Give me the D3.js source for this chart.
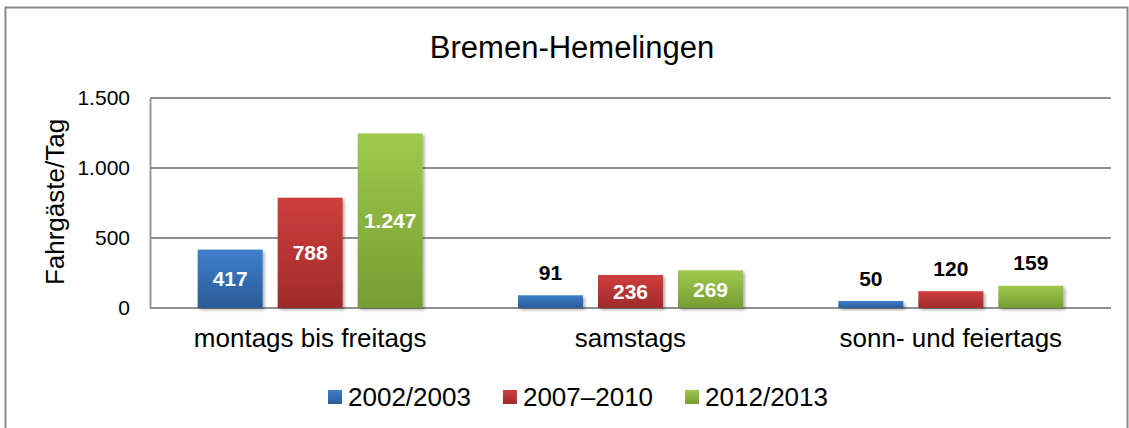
<!DOCTYPE html>
<html>
<head>
<meta charset="utf-8">
<script src="https://cdn.jsdelivr.net/npm/d3@7"></script>
<style>
  body { margin: 0; background: #fff; }
  text { font-family: Arial, 'Liberation Sans', sans-serif; }
</style>
</head>
<body>
<div id="chart"></div>
<script>
const categories = ['montags bis freitags', 'samstags', 'sonn- und feiertags'];
const seriesNames = ['2002/2003', '2007\u20132010', '2012/2013'];
const values2002 = [417, 91, 50];
const values2007 = [788, 236, 120];
const values2012 = [1247, 269, 159];
const yTicks = [0, 500, 1000, 1500];

const colors = [
    { id: 'gBlue', top: '#3e7fcd', bottom: '#2b5b98' },
    { id: 'gRed', top: '#cf3e3c', bottom: '#9f2b2a' },
    { id: 'gGreen', top: '#9fca4b', bottom: '#769c33' }
];

const series = [values2002, values2007, values2012];

const W = 1129, H = 428;
const plot = { left: 150, right: 1111, top: 98, bottom: 308 };

const fmt = d3.formatLocale({ decimal: ',', thousands: '.', grouping: [3], currency: ['', '€'] }).format(',d');

const svg = d3.select('#chart')
    .append('svg')
    .attr('width', W)
    .attr('height', H);

const defs = svg.append('defs');
colors.forEach(c => {
    const g = defs.append('linearGradient')
        .attr('id', c.id)
        .attr('x1', '0%').attr('y1', '0%')
        .attr('x2', '0%').attr('y2', '100%');
    g.append('stop').attr('offset', '0%').attr('stop-color', c.top);
    g.append('stop').attr('offset', '100%').attr('stop-color', c.bottom);
});

const shadow = defs.append('filter')
    .attr('id', 'shadow')
    .attr('x', '-20%').attr('y', '-20%')
    .attr('width', '150%').attr('height', '150%');
shadow.append('feDropShadow')
    .attr('dx', 2).attr('dy', 2)
    .attr('stdDeviation', 1.5)
    .attr('flood-color', '#000')
    .attr('flood-opacity', 0.3);

// outer frame
svg.append('rect')
    .attr('x', 5.5).attr('y', 7.5)
    .attr('width', W - 7).attr('height', H + 20)
    .attr('fill', 'none')
    .attr('stroke', '#8a8a8a')
    .attr('stroke-width', 2);

// title
svg.append('text')
    .attr('x', 572)
    .attr('y', 58)
    .attr('text-anchor', 'middle')
    .style('font-size', '31px')
    .attr('fill', '#000')
    .text('Bremen-Hemelingen');

const x0 = d3.scaleBand()
    .domain(categories)
    .range([plot.left, plot.right])
    .paddingInner(0)
    .paddingOuter(0);

const barW = 65, barStep = 80;

const y = d3.scaleLinear()
    .domain([0, 1500])
    .range([plot.bottom, plot.top]);

// grid
svg.append('g')
    .selectAll('line')
    .data(yTicks)
    .enter()
    .append('line')
    .attr('x1', plot.left)
    .attr('x2', plot.right)
    .attr('y1', d => y(d))
    .attr('y2', d => y(d))
    .attr('stroke', '#8f8f8f')
    .attr('stroke-width', 1.8);

// y axis
const yAxis = svg.append('g')
    .attr('transform', `translate(${plot.left},0)`)
    .call(d3.axisLeft(y).tickValues(yTicks).tickSize(0).tickPadding(20).tickFormat(fmt));
yAxis.select('.domain')
    .attr('stroke', '#8f8f8f')
    .attr('stroke-width', 1.8);
yAxis.selectAll('text')
    .style('font-size', '21px')
    .style('font-family', "Arial, 'Liberation Sans', sans-serif")
    .attr('fill', '#000');

svg.append('text')
    .attr('transform', 'translate(64,202) rotate(-90)')
    .attr('text-anchor', 'middle')
    .style('font-size', '26px')
    .attr('fill', '#000')
    .text('Fahrgäste/Tag');

// category labels
svg.append('g')
    .selectAll('text')
    .data(categories)
    .enter()
    .append('text')
    .attr('x', d => x0(d) + x0.bandwidth() / 2)
    .attr('y', 347)
    .attr('text-anchor', 'middle')
    .style('font-size', '26px')
    .attr('fill', '#000')
    .text(d => d);

// bars
const barData = [];
series.forEach((vals, si) => {
    vals.forEach((v, ci) => {
        barData.push({ si, ci, v });
    });
});

const barX = d => x0(categories[d.ci]) + x0.bandwidth() / 2 - (barStep * 2 + barW) / 2 + d.si * barStep;

svg.append('g')
    .selectAll('rect')
    .data(barData)
    .enter()
    .append('rect')
    .attr('x', barX)
    .attr('y', d => y(d.v))
    .attr('width', barW)
    .attr('height', d => y(0) - y(d.v))
    .attr('fill', d => `url(#${colors[d.si].id})`)
    .style('filter', 'url(#shadow)');

svg.append('g')
    .selectAll('text')
    .data(barData)
    .enter()
    .append('text')
    .attr('x', d => barX(d) + barW / 2)
    .attr('y', d => {
        const h = y(0) - y(d.v);
        return h >= 30 ? y(d.v) + h / 2 + 7.5 : y(d.v) - 15.5;
    })
    .attr('text-anchor', 'middle')
    .style('font-size', '21px')
    .style('font-weight', 'bold')
    .attr('fill', d => (y(0) - y(d.v) >= 30 ? '#fff' : '#000'))
    .text(d => fmt(d.v));

// legend
const legend = svg.append('g');
const items = legend.selectAll('g')
    .data(seriesNames)
    .enter()
    .append('g');
items.append('rect')
    .attr('width', 14)
    .attr('height', 14)
    .attr('y', 390)
    .attr('fill', (d, i) => `url(#${colors[i].id})`);
items.append('text')
    .attr('x', 20)
    .attr('y', 406)
    .style('font-size', '26px')
    .attr('fill', '#000')
    .text(d => d);

let cursor = 0;
const offsets = [];
items.each(function() {
    offsets.push(cursor);
    const tw = d3.select(this).select('text').node().getComputedTextLength();
    cursor += 20 + tw + 32;
});
const totalW = cursor - 32;
const startX = 578 - totalW / 2;
items.attr('transform', (d, i) => `translate(${startX + offsets[i]},0)`);
</script>
</body>
</html>
